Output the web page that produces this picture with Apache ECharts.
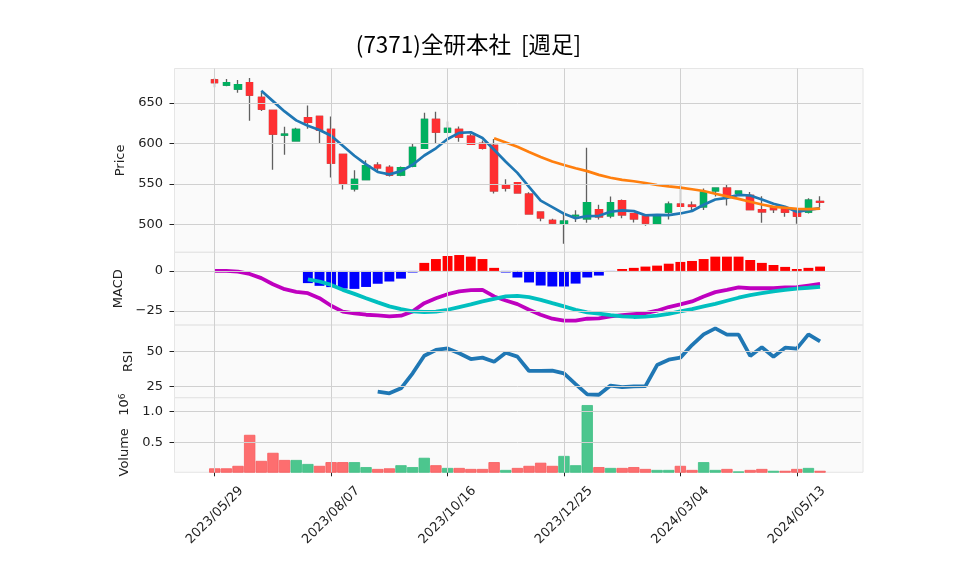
<!DOCTYPE html>
<html><head><meta charset="utf-8">
<script src="https://cdn.jsdelivr.net/npm/echarts@6/dist/echarts.min.js"></script>
<style>html,body{margin:0;padding:0;background:#fff}#c{width:958px;height:575px}</style>
</head><body><div id="c"></div>
<script>
// ---------- data ----------
const dates = ['2023/05/29','2023/06/05','2023/06/12','2023/06/19','2023/06/26','2023/07/03','2023/07/10','2023/07/17','2023/07/24','2023/07/31',
  '2023/08/07','2023/08/14','2023/08/21','2023/08/28','2023/09/04','2023/09/11','2023/09/18','2023/09/25','2023/10/02','2023/10/09',
  '2023/10/16','2023/10/23','2023/10/30','2023/11/06','2023/11/13','2023/11/20','2023/11/27','2023/12/04','2023/12/11','2023/12/18',
  '2023/12/25','2024/01/01','2024/01/08','2024/01/15','2024/01/22','2024/01/29','2024/02/05','2024/02/12','2024/02/19','2024/02/26',
  '2024/03/04','2024/03/11','2024/03/18','2024/03/25','2024/04/01','2024/04/08','2024/04/15','2024/04/22','2024/04/29','2024/05/06',
  '2024/05/13','2024/05/20','2024/05/27'];
const dateLabels = ['2023/05/29','2023/08/07','2023/10/16','2023/12/25','2024/03/04','2024/05/13'];
const open  = [678.3,671.7,667.0,675.0,656.6,640.6,610.2,603.0,631.6,633.2,617.2,586.5,543.9,555.3,573.0,570.5,561.0,571.7,594.0,629.5,
  614.0,617.2,609.0,600.0,597.5,548.4,551.6,537.3,515.2,504.9,500.8,510.5,507.0,518.4,510.6,529.5,513.5,510.2,500.8,515.2,
  525.0,523.8,521.7,541.4,544.7,538.5,536.0,518.4,520.5,519.3,516.8,515.2,528.3];
const high  = [680.7,679.5,678.0,680.7,663.0,641.5,620.5,619.3,646.7,633.5,633.2,586.8,566.8,579.1,576.6,573.0,571.5,599.6,637.7,638.9,
  627.0,620.9,612.0,603.5,605.3,555.7,552.5,539.8,516.0,507.0,512.7,517.5,594.7,524.2,534.4,530.7,514.0,510.5,512.5,528.3,
  549.6,528.3,544.3,545.0,549.6,541.5,540.0,534.8,522.5,521.7,519.3,532.4,534.8];
const low   = [669.3,670.5,662.3,627.9,639.8,567.6,586.0,602.9,618.0,599.6,557.8,543.0,540.6,555.0,564.3,559.0,559.5,570.5,593.0,599.6,
  613.0,602.0,598.0,592.5,538.1,540.6,538.5,512.5,504.0,500.4,476.2,503.0,502.0,506.0,507.8,507.8,502.5,498.4,500.0,506.0,
  521.7,518.0,518.0,534.4,523.4,535.0,518.0,502.0,514.3,509.4,500.8,513.5,521.7];
const close = [675.0,674.8,672.5,659.4,642.2,611.5,611.3,617.2,625.8,616.4,575.8,550.0,555.7,572.5,569.7,561.0,570.0,595.0,629.5,614.0,
  618.4,607.8,598.8,593.9,541.4,545.0,539.0,513.1,508.2,501.6,504.0,511.2,527.0,509.4,527.0,511.9,507.0,501.6,511.9,525.0,
  522.5,522.2,539.8,544.7,534.8,541.0,518.4,515.6,518.4,515.2,510.2,530.0,527.5];
const volume = [80000,80000,120000,620000,200000,330000,215000,215000,150000,120000,180000,180000,180000,100000,70000,80000,130000,100000,250000,130000,
  86000,86000,70000,70000,180000,54000,86000,120000,170000,120000,280000,130000,1100000,100000,86000,86000,100000,70000,54000,54000,
  120000,54000,180000,54000,70000,30000,54000,70000,40000,40000,70000,86000,40000];
const macdLine = [0.0,0.0,-0.4,-1.9,-4.5,-8.3,-11.4,-13.0,-13.9,-17.0,-21.7,-25.4,-26.5,-27.3,-27.7,-28.3,-27.9,-25.2,-20.1,-17.0,
  -14.5,-12.8,-12.0,-11.8,-15.9,-18.4,-20.7,-24.2,-27.3,-29.8,-31.0,-31.0,-29.8,-29.6,-28.3,-27.5,-26.9,-26.3,-24.8,-22.5,
  -20.9,-19.0,-15.9,-13.2,-11.8,-10.3,-10.8,-10.8,-10.8,-10.3,-10.1,-9.1,-8.1];
const signalLine = [null,null,null,null,null,null,null,null,-5.2,-6.6,-8.7,-11.8,-14.3,-17.0,-19.6,-22.1,-23.8,-25.2,-25.6,-25.4,
  -24.2,-22.5,-20.9,-19.0,-17.4,-15.9,-15.5,-16.3,-18.0,-20.1,-22.1,-24.2,-25.8,-26.6,-27.5,-28.3,-28.7,-28.5,-27.9,-26.7,
  -25.2,-23.8,-22.1,-20.5,-18.6,-16.7,-15.1,-13.9,-12.8,-11.8,-11.0,-10.5,-9.9];
const macdHist = [null,null,null,null,null,null,null,null,-7.6,-9.3,-10.1,-11.0,-11.2,-10.0,-8.0,-6.6,-4.8,-1.0,5.0,7.4,
  9.3,9.9,8.9,7.4,1.9,-1.0,-4.1,-7.2,-9.1,-9.7,-9.7,-7.9,-4.1,-2.9,-0.3,1.2,1.9,2.7,3.3,4.5,
  5.6,6.2,7.4,8.9,8.9,8.9,6.8,5.0,3.7,2.5,1.2,1.9,2.7];
const rsi = [null,null,null,null,null,null,null,null,null,null,null,null,null,null,21.2,20.0,23.6,34.3,46.9,51.0,
  52.1,48.6,44.5,45.5,42.6,49.0,46.2,36.0,36.0,36.2,34.3,26.6,19.3,19.0,25.6,24.5,25.0,25.2,40.2,44.0,
  45.5,54.5,62.1,66.4,61.9,61.9,46.7,52.9,46.2,52.6,51.9,62.1,57.1];
const priceTicks = [500,550,600,650];
const macdTicks = [-25,0];
const rsiTicks = [25,50];
const volumeTicks = [500000,1000000];

// ---------- derived (moving averages of the close) ----------
function sma(n){ return close.map((_,i)=> i<n-1 ? null : close.slice(i-n+1,i+1).reduce((a,b)=>a+b,0)/n); }
const ma5 = sma(5), ma25 = sma(25);

// ---------- layout helpers ----------
const PAD = 3;
const cats = Array.from({length:PAD},(_,k)=>'pre'+k).concat(dates, Array.from({length:PAD},(_,k)=>'post'+k));
const pad = a => Array(PAD).fill('-').concat(a.map(v => v==null ? '-' : v), Array(PAD).fill('-'));
const UP='#00b060', DN='#fe3032', WICK='#606060', GRID='#d0d0d0', TXT='#222';
const VUP='#4cc68e', VDN='#fd6e6f', VUPB='#3fbf85', VDNB='#f65a5c';
const LEFT=174, GW=686.8, BGW=689.5;
const panels = [[68.5,183.8],[252.3,72.7],[325,72.7],[397.7,74.6]];
const yr = [[465.7,692.3],[-33.7,11.6],[16.9,68.8],[16000,1219000]];
const yt = [priceTicks, macdTicks, rsiTicks, volumeTicks];
const fmt = [v=>String(v), v=> v<0 ? '\u2212'+Math.abs(v) : String(v), v=>String(v), v=>(v/1e6).toFixed(1)];
const names = ['Price','MACD','RSI','Volume   10{sup|6}'];
const nameGaps = [40,40,31,38];

const wickData = pad(dates.map((_,i)=>[open[i],close[i],low[i],high[i]]));
const bodyData = pad(dates.map((_,i)=>[open[i],close[i],Math.min(open[i],close[i]),Math.max(open[i],close[i])]));
const volData = pad(volume.map((v,i)=>{ const up = i>0 ? close[i]>=close[i-1] : close[i]>=open[i];
  return {value:v, itemStyle:{color: up?VUP:VDN, borderColor: up?VUPB:VDNB}}; }));
const isLab = (idx, val) => dateLabels.indexOf(val) >= 0;

const grids = panels.map(p=>({left:LEFT, width:GW, top:p[0], height:p[1], containLabel:false, outerBoundsMode:'none'}));
const xAxes = panels.map((p,g)=>({
  type:'category', gridIndex:g, data:cats, boundaryGap:true,
  axisLine:{show:false}, splitLine:{show:false},
  axisTick:{show:g===3, alignWithLabel:true, interval:isLab, length:4, lineStyle:{color:TXT, width:1}},
  axisLabel:{show:g===3, interval:isLab, rotate:45, align:'center', verticalAlign:'middle', margin:43,
    fontSize:13, fontFamily:'DejaVu Sans', color:TXT}
}));
const yAxes = panels.map((p,g)=>({
  type:'value', gridIndex:g, min:yr[g][0], max:yr[g][1], scale:true,
  axisLine:{show:false}, splitLine:{show:false},
  axisTick:{show:true, length:4.5, customValues:yt[g], lineStyle:{color:TXT, width:1}},
  axisLabel:{customValues:yt[g], margin:11, fontSize:13, fontFamily:'DejaVu Sans', color:TXT, formatter:fmt[g]},
  name:names[g], nameLocation:'middle', nameGap:nameGaps[g], nameRotate:90,
  nameTextStyle:{fontSize:13, fontFamily:'DejaVu Sans', color:TXT,
    rich:{sup:{fontSize:9, verticalAlign:'top', fontFamily:'DejaVu Sans', color:TXT}}}
}));
function gridLines(g){
  return {type:'line', xAxisIndex:g, yAxisIndex:g, data:cats.map(()=>'-'), z:1, silent:true, showSymbol:false,
    markLine:{silent:true, symbol:['none','none'], animation:false, label:{show:false},
      lineStyle:{color:GRID, width:1, type:'solid'}, emphasis:{disabled:true},
      data: dateLabels.map(d=>({xAxis:cats.indexOf(d)})).concat(yt[g].map(v=>({yAxis:v})))}};
}
const line = (g, data, color, w, z) => ({type:'line', xAxisIndex:g, yAxisIndex:g, data:pad(data), showSymbol:false,
  smooth:false, connectNulls:false, z:z||3, lineStyle:{color:color, width:w}, itemStyle:{color:color}, silent:true});

const series = [
  gridLines(0), gridLines(1), gridLines(2), gridLines(3),
  {type:'candlestick', xAxisIndex:0, yAxisIndex:0, data:wickData, barWidth:7, z:2, silent:true,
    itemStyle:{color:WICK, color0:WICK, borderColor:WICK, borderColor0:WICK, borderWidth:1.3}},
  {type:'candlestick', xAxisIndex:0, yAxisIndex:0, data:bodyData, barWidth:7, z:3, silent:true,
    itemStyle:{color:UP, color0:DN, borderColor:UP, borderColor0:DN, borderWidth:1.3}},
  line(0, ma5, '#1f77b4', 2.7, 4),
  line(0, ma25, '#ff7f0e', 2.7, 4),
  {type:'bar', xAxisIndex:1, yAxisIndex:1, data:pad(macdHist), barWidth:'85%', z:2, silent:true,
    itemStyle:{color: p => p.value >= 0 ? '#ff0000' : '#0000ff'}},
  line(1, macdLine, '#bf00bf', 3.8, 4),
  line(1, signalLine, '#00bfbf', 3.8, 4),
  line(2, rsi, '#1f77b4', 3.8, 4),
  {type:'bar', xAxisIndex:3, yAxisIndex:3, data:volData, barWidth:'97%', z:2, silent:true, itemStyle:{borderWidth:0.8}}
];

const graphic = [{type:'rect', z:-10, silent:true, shape:{x:LEFT, y:68.5, width:BGW, height:472.3-68.5}, style:{fill:'#fafafa'}}]
  .concat(panels.map(p=>({type:'rect', z:-9, silent:true, shape:{x:LEFT+0.5, y:p[0], width:BGW-1, height:p[1]},
    style:{fill:'none', stroke:'#e6e6e6', lineWidth:1}})))
  .concat([{type:'text', x:468.5, y:44.5, silent:true,
    style:{text:'(7371)全研本社  [週足]', fontSize:22.5, fontFamily:'"Noto Sans CJK JP"', fill:'#000', align:'center', verticalAlign:'middle'}}]);

const chart = echarts.init(document.getElementById('c'), null, {renderer:'canvas'});
chart.setOption({
  animation:false, backgroundColor:'#fff',
  textStyle:{fontFamily:'DejaVu Sans'},
  grid:grids, xAxis:xAxes, yAxis:yAxes, series:series, graphic:graphic
});
</script></body></html>
